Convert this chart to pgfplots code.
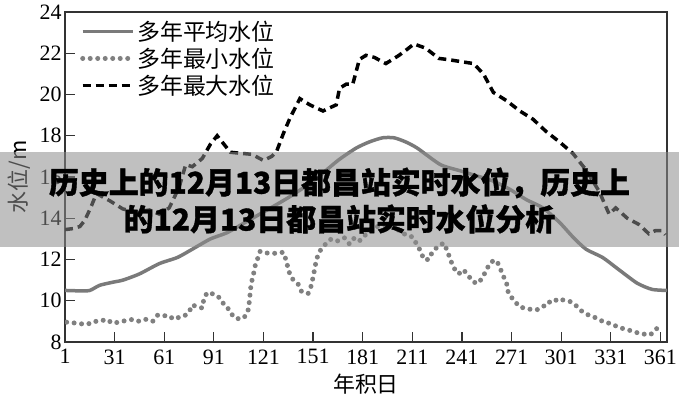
\documentclass[border=0pt]{standalone}
\usepackage{pgfplots}
\usepackage{pgfplotstable}
\pgfplotsset{compat=1.18}
\usepackage{fontspec}
\setmainfont{Liberation Serif}
\newfontfamily\cjk{Noto Sans CJK SC}
\newfontfamily\cjkheavy{Noto Sans CJK SC}[BoldFeatures={FakeBold=1.2}]

% multi-year mean water level
\pgfplotstableread{
day lvl
1 10.5
10 10.48
16 10.5
22 10.75
30 10.9
36 11.0
46 11.3
58 11.8
69 12.1
78 12.5
89 13.0
99 13.3
110 13.8
121 14.3
136 15.0
151 15.8
166 16.8
177 17.4
185 17.7
193 17.9
200 17.9
207 17.7
214 17.4
228 16.6
240 16.3
248 16.1
260 15.8
270 15.4
280 14.9
290 14.5
300 13.8
308 13.1
316 12.5
326 12.1
336 11.5
347 10.85
356 10.55
365 10.5
}\avgdata

% multi-year minimum
\pgfplotstableread{
day lvl
2 8.96
7 8.92
12 8.87
15 8.87
18 9.0
22 9.0
26 9.1
30 8.9
35 9.0
39 9.05
42 9.1
46 9.0
50 9.1
54 9.0
57 9.3
60 9.25
63 9.3
67 9.1
70 9.2
73 9.25
76 9.45
78 9.8
81 9.7
84 9.65
85 10.1
87 10.4
92 10.3
95 10.1
98 9.7
100 9.6
103 9.2
107 9.1
110 9.25
112 9.6
112.5 10.0
113 10.4
113.5 10.8
115 11.3
116 11.7
119 12.4
124 12.3
128 12.3
133 12.35
135 11.9
136 11.5
138 11.1
142 10.8
144 10.45
148 10.35
150 10.75
151 11.15
152 11.55
153 12.0
155 12.4
158 12.7
162 13.0
166 12.9
170 13.05
173 12.75
176 13.05
179 12.9
184 13.3
190 13.6
197 13.7
203 13.4
208 13.15
211 13.1
214 12.7
216 12.4
218 12.0
221 12.0
223 12.35
226 12.6
230 12.8
232 12.45
234 12.0
236 11.6
239 11.3
242 11.5
245 11.2
248 10.9
251 10.85
254 11.2
256 11.55
259 11.9
262 11.95
264 11.6
266 11.2
268 10.85
269 10.4
272 10.05
276 9.7
281 9.6
286 9.55
290 9.7
293 9.95
296 9.9
299 10.1
304 10.0
307 9.95
311 9.7
314 9.45
319 9.25
323 9.15
327 8.95
331 8.9
336 8.7
341 8.6
345 8.5
349 8.4
355 8.35
358 8.6
362 8.85
}\mindata

% multi-year maximum
\pgfplotstableread{
day lvl
1 13.45
6 13.5
10 13.6
13 13.9
17 14.6
20 15.2
28 14.85
36 14.45
44 14.3
52 14.4
58 14.2
64 14.5
70 15.5
74 16.6
78 16.5
84 16.9
89 17.6
93 18.0
97 17.6
101 17.2
107 17.15
114 17.1
121 16.8
126 17.0
129 17.25
133 18.1
137 18.85
143 19.8
149 19.5
157 19.2
165 19.5
167 20.3
171 20.5
175 20.5
179 21.7
183 21.9
188 21.8
195 21.5
203 21.9
208 22.2
212 22.45
219 22.25
227 21.75
232 21.7
240 21.6
248 21.5
254 21.0
260 20.1
268 19.7
276 19.2
284 18.8
292 18.2
300 17.7
308 17.15
316 16.35
324 15.3
330 14.2
334 14.5
341 14.0
348 13.7
354 13.25
358 13.4
362 13.4
364 13.2
}\maxdata

\begin{document}
\begin{tikzpicture}
\path[use as bounding box] (0,0) rectangle (679bp,400bp);
\begin{axis}[
  at={(65bp,58bp)}, anchor=south west,
  scale only axis, width=602bp, height=330bp,
  xmin=1, xmax=365, ymin=8, ymax=24,
  xtick={1,31,...,361}, ytick={8,10,...,24},
  xtick pos=bottom, ytick pos=left, tick align=inside,
  major tick length=10bp,
  axis line style={line width=1.2bp, black!80},
  tick style={line width=1.2bp, black!80},
  ticklabel style={font=\fontsize{22}{22}\selectfont},
  xticklabel style={yshift=-4bp},
  /pgf/number format/assume math mode=true,
  xlabel={\cjk 年积日}, ylabel={\cjk 水位/m},
  label style={font=\fontsize{22}{22}\selectfont},
  xlabel style={yshift=-3bp},
  ylabel style={yshift=2bp},
  legend cell align=left,
  legend style={at={(0.02,0.985)}, anchor=north west, draw=none, fill=none,
    font=\fontsize{23}{26}\selectfont\cjk, row sep=2bp},
  legend image code/.code={\draw[#1] (0bp,0bp) -- (50bp,0bp);},
]
\addplot[draw=black!52, line width=3.5bp, smooth, tension=0.4] table[x=day, y=lvl] {\avgdata};
\addlegendentry{多年平均水位}
\addplot[draw=black!50, line width=5bp, line cap=round, dash pattern=on 0bp off 7.5bp] table[x=day, y=lvl] {\mindata};
\addlegendentry{多年最小水位}
\addplot[draw=black, line width=3.5bp, dash pattern=on 8bp off 5bp] table[x=day, y=lvl] {\maxdata};
\addlegendentry{多年最大水位}
\end{axis}
\fill[black!45, opacity=0.55] (0,153bp) rectangle (679bp,248bp);
\node[font=\fontsize{30}{37}\selectfont\cjkheavy\bfseries, align=center, text=black] at (339.5bp,199.5bp)
  {历史上的12月13日都昌站实时水位，历史上\\的12月13日都昌站实时水位分析};
\end{tikzpicture}
\end{document}
